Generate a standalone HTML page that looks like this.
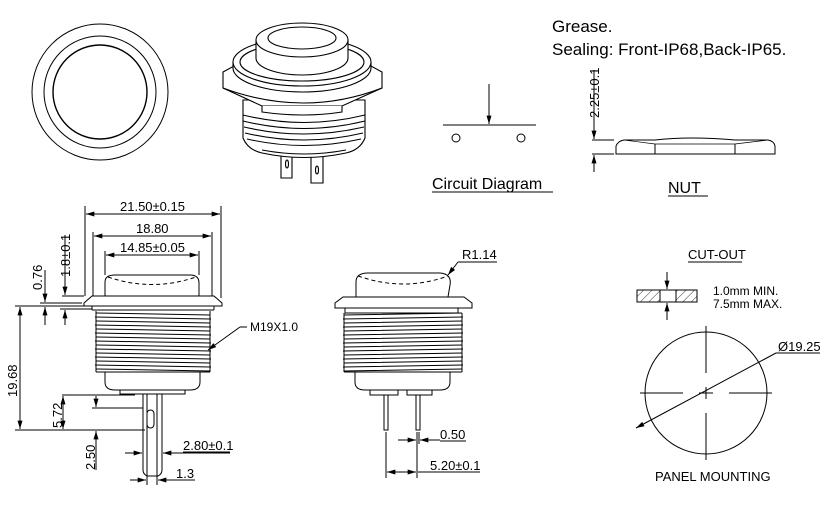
<!DOCTYPE html>
<html><head><meta charset="utf-8"><style>
html,body{margin:0;padding:0;background:#fff;width:827px;height:505px;overflow:hidden}
svg{display:block}
text{font-family:"Liberation Sans",Arial,sans-serif;fill:#000}
</style></head><body>
<svg width="827" height="505" viewBox="0 0 827 505" xmlns="http://www.w3.org/2000/svg">
<defs>
<marker id="a" viewBox="0 0 10 6" refX="10" refY="3" markerWidth="9" markerHeight="5" orient="auto-start-reverse" markerUnits="userSpaceOnUse"><path d="M0,0 L10,3 L0,6z" fill="#000"/></marker>
<pattern id="h" width="6" height="6" patternUnits="userSpaceOnUse" patternTransform="rotate(45)"><line x1="0" y1="0" x2="0" y2="6" stroke="#000" stroke-width="0.8"/></pattern>
</defs>
<g fill="none" stroke="#000" stroke-width="1">
<!-- top view circles -->
<circle cx="100" cy="92" r="68"/>
<circle cx="100" cy="92" r="56"/>
<circle cx="100" cy="92" r="47" stroke-width="1.4"/>

<!-- 3D button -->
<g stroke-width="1.1" fill="#fff">
<path d="M281,150 L281,178 L292,178 L292,150 Z"/>
<path d="M311,152 L311,183 L323,183 L323,152 Z"/>
<ellipse cx="287" cy="164" rx="1.5" ry="4"/><ellipse cx="317" cy="170" rx="1.5" ry="4"/>
<path d="M243,100 L243,138 Q248,150 262,153 Q304,162 346,153 Q360,150 365,138 L365,100 Z"/>
<path d="M243,115 Q304,130 365,115 M243,121 Q304,136 365,121 M244,127 Q304,141 364,127 M245,133 Q304,147 363,133 M247,139 Q304,152 361,139" fill="none"/>
<path d="M262,150 Q304,158 346,150" fill="none"/>
<path d="M223,72 L234,66 L371,66 L382,72 L382,88 L342,106 L262,106 L223,88 Z"/>
<path d="M262,106 L262,112 Q304,118 342,112 L342,106" />
<path d="M223,88 Q304,118 382,88" fill="none"/>
<path d="M233,62 L233,68 A69,24 0 0 0 371,68 L371,62"/>
<ellipse cx="302" cy="62" rx="69" ry="24"/>
<ellipse cx="302" cy="62" rx="62" ry="19"/>
<path d="M256,40 L256,58 A46,17 0 0 0 348,58 L348,40 Z"/>
<ellipse cx="302" cy="40" rx="46" ry="17"/>
<ellipse cx="302" cy="38" rx="34" ry="11"/>
</g>

<!-- circuit -->
<line x1="443" y1="125" x2="536" y2="125"/>
<line x1="489" y1="84" x2="489" y2="124" marker-end="url(#a)"/>
<circle cx="456" cy="138" r="4"/><circle cx="521" cy="138" r="4"/>
<line x1="432" y1="192" x2="553" y2="192"/>

<!-- nut -->
<path d="M616,154 L616,146 Q618,141 624,140 L655,140 Q690,136 735,140 L768,140 Q774,141 775,146 L775,154 Z"/>
<line x1="655" y1="144" x2="655" y2="154"/><line x1="735" y1="144" x2="735" y2="154"/>
<path d="M624,140 L655,144 L735,144 L768,140" stroke-width="0.7"/>
<line x1="592" y1="140" x2="614" y2="140"/><line x1="592" y1="154" x2="614" y2="154"/>
<line x1="594" y1="70" x2="594" y2="139" marker-end="url(#a)"/>
<line x1="594" y1="172" x2="594" y2="155" marker-end="url(#a)"/>
<line x1="668" y1="196" x2="708" y2="196"/>

<!-- left elevation -->
<path d="M105,296 L105,282 Q105,275 115,275 L190,275 Q199,275 199,283 L199,296"/>
<path d="M108,277 Q152,292 196,277" stroke-dasharray="4,3"/>
<path d="M84,303 L92,296 L214,296 L222,303 L222,306 L84,306 Z"/>
<line x1="92" y1="306" x2="92" y2="310"/><line x1="214" y1="306" x2="214" y2="310"/>
<line x1="92" y1="310" x2="214" y2="310"/>
<path d="M96,313 L210,315 M95,317 L211,319 M96,321 L210,323 M95,325 L211,327 M96,329 L210,331 M95,333 L211,335 M96,337 L210,339 M95,341 L211,343 M96,345 L210,347 M95,349 L211,351 M96,353 L210,355 M95,357 L211,359 M96,361 L210,363 M95,365 L211,367 M96,369 L210,371"/>
<path d="M96,311 L96,372 M210,311 L210,372"/>
<line x1="96" y1="372" x2="210" y2="372"/>
<path d="M105,372 L105,382 Q105,390 115,390 L190,390 Q200,390 200,382 L200,372"/>
<path d="M120,390 L120,394 L185,394 L185,390"/>
<path d="M143,394 L143,470 Q143,474 147,476 L158,476 Q162,474 162,470 L162,394"/>
<rect x="147" y="410" width="7" height="18" rx="3.5"/>
<line x1="147" y1="394" x2="147" y2="485"/><line x1="157" y1="394" x2="157" y2="485"/>
<!-- dims left -->
<line x1="85" y1="206" x2="85" y2="296"/><line x1="221" y1="206" x2="221" y2="298"/>
<line x1="86" y1="214" x2="220" y2="214" marker-start="url(#a)" marker-end="url(#a)"/>
<line x1="93" y1="232" x2="93" y2="296"/><line x1="212" y1="232" x2="212" y2="296"/>
<line x1="94" y1="236" x2="211" y2="236" marker-start="url(#a)" marker-end="url(#a)"/>
<line x1="105" y1="251" x2="105" y2="275"/><line x1="199" y1="251" x2="199" y2="275"/>
<line x1="106" y1="255" x2="198" y2="255" marker-start="url(#a)" marker-end="url(#a)"/>
<line x1="62" y1="296" x2="84" y2="296"/><line x1="40" y1="303" x2="82" y2="303"/><line x1="40" y1="306" x2="84" y2="306"/><line x1="60" y1="309" x2="92" y2="309"/>
<line x1="65" y1="235" x2="65" y2="295" marker-end="url(#a)"/><line x1="65" y1="325" x2="65" y2="310" marker-end="url(#a)"/>
<line x1="45" y1="270" x2="45" y2="302" marker-end="url(#a)"/><line x1="45" y1="325" x2="45" y2="307" marker-end="url(#a)"/>
<line x1="15" y1="306" x2="95" y2="306"/>
<line x1="15" y1="430" x2="145" y2="430"/>
<line x1="20" y1="307" x2="20" y2="429" marker-start="url(#a)" marker-end="url(#a)"/>
<line x1="62" y1="395" x2="135" y2="395"/>
<line x1="92" y1="408" x2="143" y2="408"/>
<line x1="63" y1="396" x2="63" y2="429" marker-start="url(#a)" marker-end="url(#a)"/>
<line x1="96" y1="396" x2="96" y2="407" marker-end="url(#a)"/>
<line x1="96" y1="470" x2="96" y2="431" marker-end="url(#a)"/>
<line x1="125" y1="453" x2="142" y2="453" marker-end="url(#a)"/>
<line x1="230" y1="453" x2="163" y2="453" marker-end="url(#a)"/>
<line x1="183" y1="452" x2="230" y2="452"/>
<line x1="130" y1="480" x2="146" y2="480" marker-end="url(#a)"/>
<line x1="195" y1="480" x2="158" y2="480" marker-end="url(#a)"/>
<line x1="240" y1="327" x2="208" y2="350" marker-end="url(#a)"/>
<line x1="240" y1="327" x2="247" y2="327"/>

<!-- middle view -->
<path d="M356,297 L356,282 Q356,273 368,273 L440,273 Q452,274 450,285 L448,297"/>
<path d="M358,276 Q404,292 448,276" stroke-dasharray="4,3"/>
<path d="M335,303 L343,297 L464,297 L472,303 L472,308 L335,308 Z"/>
<path d="M345,308 L345,313 L458,313 L458,308"/>
<path d="M344,315 L462,313 M343,319 L463,317 M344,323 L462,321 M343,327 L463,325 M344,331 L462,329 M343,335 L463,333 M344,339 L462,337 M343,343 L463,341 M344,347 L462,345 M343,351 L463,349 M344,355 L462,353 M343,359 L463,357 M344,363 L462,361 M343,367 L463,365 M344,371 L462,369"/>
<path d="M344,313 L344,372 M462,313 L462,372 M344,372 L462,372"/>
<path d="M355,372 L355,382 Q355,390 365,390 L440,390 Q450,390 450,382 L450,372"/>
<rect x="370" y="390" width="28" height="5"/><rect x="407" y="390" width="25" height="5"/>
<path d="M384,395 L384,430 L388,430 L388,395 M416,395 L416,430 L420,430 L420,395"/>
<line x1="386" y1="432" x2="386" y2="478"/><line x1="417" y1="432" x2="417" y2="478"/><line x1="419" y1="432" x2="419" y2="444"/>
<line x1="398" y1="440" x2="416" y2="440" marker-end="url(#a)"/>
<line x1="440" y1="440" x2="420" y2="440" marker-end="url(#a)"/>
<line x1="440" y1="441" x2="466" y2="441"/>
<line x1="387" y1="472" x2="416" y2="472" marker-start="url(#a)" marker-end="url(#a)"/>
<line x1="418" y1="472" x2="480" y2="472"/>
<line x1="458" y1="262" x2="448" y2="275" marker-end="url(#a)"/>
<line x1="458" y1="262" x2="497" y2="262"/>

<!-- cut-out -->
<line x1="688" y1="262" x2="742" y2="262"/>
<rect x="637" y="290" width="23" height="12" fill="url(#h)"/>
<rect x="676" y="290" width="21" height="12" fill="url(#h)"/>
<rect x="637" y="290" width="60" height="12"/>
<line x1="667" y1="272" x2="667" y2="289" marker-end="url(#a)"/>
<line x1="667" y1="320" x2="667" y2="303" marker-end="url(#a)"/>
<circle cx="706" cy="393" r="61"/>
<path d="M706,326 L706,373 M706,387 L706,399 M706,413 L706,460 M640,393 L683,393 M699,393 L713,393 M729,393 L772,393"/>
<line x1="636" y1="428" x2="776" y2="353" marker-start="url(#a)"/>
<line x1="776" y1="353" x2="820" y2="353"/>
</g>

<text x="552" y="32" font-size="17">Grease.</text>
<text x="552" y="55" font-size="17">Sealing: Front-IP68,Back-IP65.</text>
<text x="432" y="189" font-size="16">Circuit Diagram</text>
<text x="668" y="193" font-size="16">NUT</text>
<text transform="translate(599,118) rotate(-90)" font-size="13">2.25±0.1</text>
<text x="120" y="211" font-size="13">21.50±0.15</text>
<text x="136" y="233" font-size="13">18.80</text>
<text x="120" y="252" font-size="13">14.85±0.05</text>
<text transform="translate(70,277) rotate(-90)" font-size="13">1.8±0.1</text>
<text transform="translate(42,290) rotate(-90)" font-size="13">0.76</text>
<text transform="translate(17,397) rotate(-90)" font-size="13">19.68</text>
<text transform="translate(62,428) rotate(-90)" font-size="13">5.72</text>
<text transform="translate(95,470) rotate(-90)" font-size="13">2.50</text>
<text x="183" y="450" font-size="13">2.80±0.1</text>
<text x="176" y="478" font-size="13">1.3</text>
<text x="250" y="331" font-size="12">M19X1.0</text>
<text x="462" y="259" font-size="13">R1.14</text>
<text x="440" y="439" font-size="13">0.50</text>
<text x="430" y="470" font-size="13">5.20±0.1</text>
<text x="688" y="259" font-size="13">CUT-OUT</text>
<text x="713" y="295" font-size="12">1.0mm MIN.</text>
<text x="713" y="308" font-size="12">7.5mm MAX.</text>
<text x="778" y="351" font-size="13">Ø19.25</text>
<text x="655" y="481" font-size="13">PANEL MOUNTING</text>
</svg>
</body></html>
